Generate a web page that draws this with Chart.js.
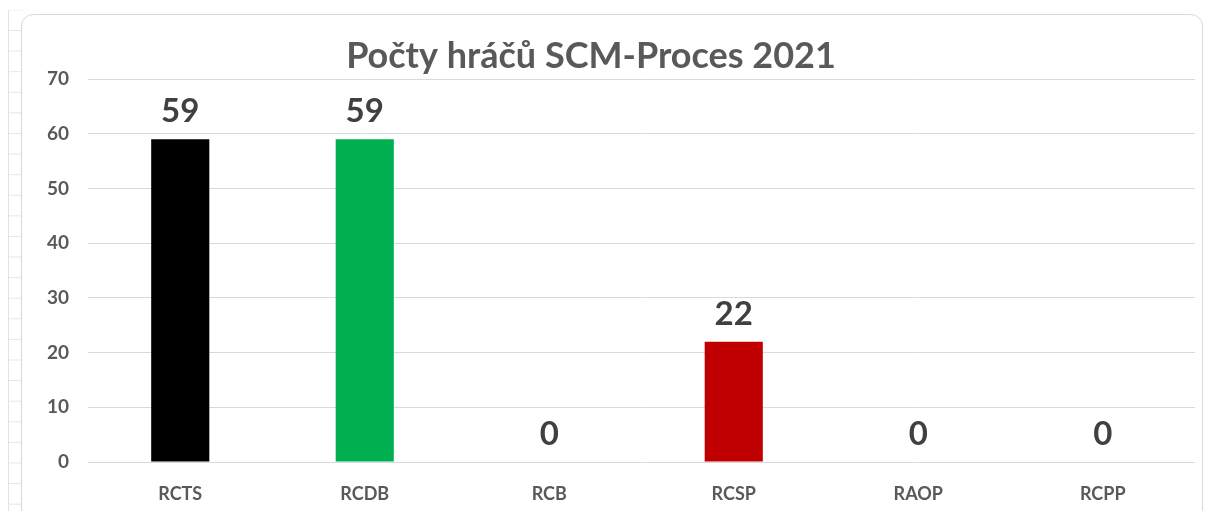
<!DOCTYPE html>
<html>
<head>
<meta charset="utf-8">
<script src="https://cdn.jsdelivr.net/npm/chart.js@4.4.1/dist/chart.umd.min.js"></script>
<style>
  html, body { margin: 0; padding: 0; background: #fff; }
  #wrap { position: relative; width: 1205px; height: 511px; overflow: hidden; }
  /* sheet cells peeking out on the left */
  #sheet {
    position: absolute; left: 8px; top: 10px; width: 14px; height: 510px;
    border-left: 1px solid #e2e2e2;
    background-image: linear-gradient(to bottom, #e6e6e6 1px, transparent 1px);
    background-size: 14px 20.6px;
    background-position: 0 20px;
  }
  #frame {
    position: absolute; left: 21px; top: 14px; width: 1180px; height: 520px;
    border: 1px solid #d9d9d9; border-radius: 12px; background: #fff;
  }
  canvas { position: absolute; left: 0; top: 0; }
</style>
</head>
<body>
<div id="wrap">
  <div id="sheet"></div>
  <div id="frame"></div>
  <canvas id="barchart" width="1205" height="511"></canvas>
</div>
<script>
const categories = ['RCTS', 'RCDB', 'RCB', 'RCSP', 'RAOP', 'RCPP'];
const players = [59, 59, 0, 22, 0, 0];
const barColors = ['#000000', '#00B050', '#000000', '#C00000', '#000000', '#000000'];
const yTicks = [0, 10, 20, 30, 40, 50, 60, 70];
const chartTitle = 'Počty hráčů SCM-Proces 2021';

const font = 'Lato, "Open Sans", sans-serif';

// title sits a little left of the plot centre, so it is drawn by hand
const titleText = {
  id: 'titleText',
  afterDraw(chart) {
    const ctx = chart.ctx;
    ctx.save();
    ctx.font = 'bold 36px ' + font;
    ctx.fillStyle = '#595959';
    ctx.textAlign = 'center';
    ctx.textBaseline = 'middle';
    ctx.fillText(chartTitle, 591, 56);
    ctx.restore();
  }
};

// value labels above each bar
const valueLabels = {
  id: 'valueLabels',
  afterDatasetsDraw(chart) {
    const ctx = chart.ctx;
    const meta = chart.getDatasetMeta(0);
    ctx.save();
    ctx.font = 'bold 33px ' + font;
    ctx.fillStyle = '#404040';
    ctx.textAlign = 'center';
    ctx.textBaseline = 'alphabetic';
    meta.data.forEach((bar, i) => {
      ctx.fillText(String(players[i]), bar.x, bar.y - 17);
    });
    ctx.restore();
  }
};

const ctxb = document.getElementById('barchart').getContext('2d');
const barchart = new Chart(ctxb, {
  type: 'bar',
  data: {
    labels: categories,
    datasets: [
      {
        label: 'Počty hráčů',
        data: players,
        backgroundColor: barColors,
        borderWidth: 0,
        barPercentage: 1,
        categoryPercentage: 0.315
      }
    ]
  },
  options: {
    responsive: false,
    animation: false,
    layout: {
      padding: { left: 20, right: 10, top: 79, bottom: 0 }
    },
    plugins: {
      legend: { display: false },
      tooltip: { enabled: false },
      title: { display: false }
    },
    scales: {
      x: {
        grid: { display: false, drawTicks: false },
        border: { display: false },
        ticks: {
          color: '#595959',
          font: { family: font, size: 18, weight: 'bold' },
          padding: 21
        },
        afterFit(scale) { scale.height = 49; }
      },
      y: {
        min: 0,
        max: 70,
        afterBuildTicks(scale) {
          scale.ticks = yTicks.map(v => ({ value: v }));
        },
        grid: { color: '#d9d9d9', lineWidth: 1, drawTicks: false },
        border: { display: false },
        ticks: {
          color: '#595959',
          font: { family: font, size: 19, weight: 'bold' },
          padding: 19
        },
        afterFit(scale) { scale.width = 68; }
      }
    }
  },
  plugins: [valueLabels, titleText]
});
</script>
</body>
</html>
